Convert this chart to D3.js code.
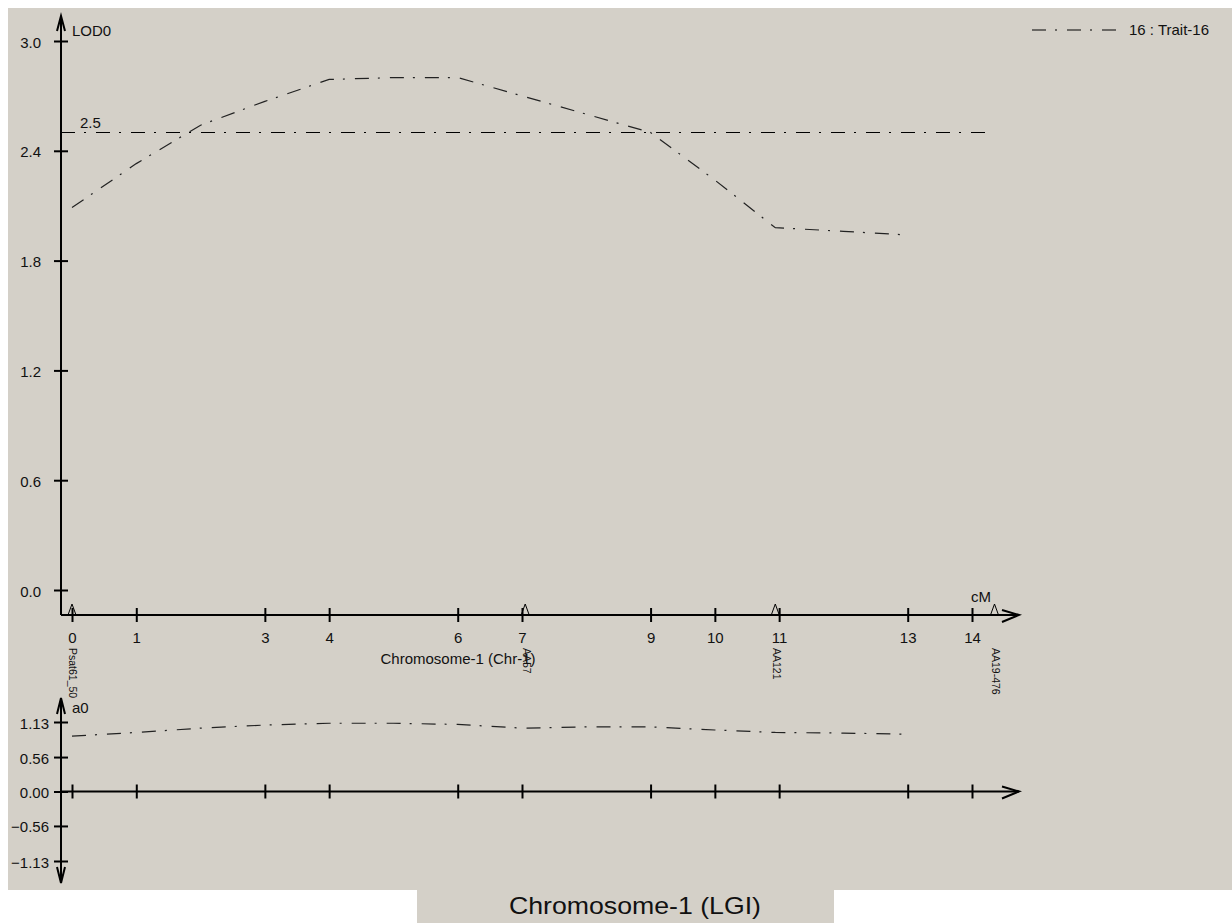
<!DOCTYPE html>
<html>
<head>
<meta charset="utf-8">
<script src="https://cdn.jsdelivr.net/npm/d3@7"></script>
<style>
  body { margin: 0; background: #fff; }
  text { font-family: "Liberation Sans", Arial, sans-serif; fill: #111; }
</style>
</head>
<body>
<script>
// values
const xTicks = [0, 1, 3, 4, 6, 7, 9, 10, 11, 13, 14];
const lodTicks = [0, 0.6, 1.2, 1.8, 2.4, 3.0];
const effTicks = [-1.13, -0.56, 0, 0.56, 1.13];
const positions = [0, 1, 2, 3, 4, 5, 6, 7, 8, 9, 10, 10.94, 12, 13];
const lodValues = [2.09, 2.33, 2.54, 2.67, 2.79, 2.80, 2.80, 2.70, 2.60, 2.50, 2.24, 1.98, 1.96, 1.94];
const a0Values = [0.90, 0.96, 1.03, 1.08, 1.11, 1.11, 1.09, 1.03, 1.05, 1.05, 1.00, 0.96, 0.95, 0.93];
const markerNames = ["Psat61_50", "AA57", "AA121", "AA19-476"];
const markerPos = [0, 7.05, 10.94, 14.35];
const threshold = 2.5;
const thresholdEnd = 14.33;
const legendLabel = "16 : Trait-16";

const width = 1232, height = 923;
const dashDot = "14,9,2,10";

const x = d3.scaleLinear().domain([0, 14]).range([72, 972]);
const yLod = d3.scaleLinear().domain([0, 3]).range([590, 41]);
const yEff = d3.scaleLinear().domain([-1.13, 1.13]).range([861, 722]);

const axisX0 = 61;          // y axis position
const lodBase = 615;        // x axis of the LOD panel
const effBase = yEff(0);    // x axis of the effect panel
const arrowEnd = 1019;

const svg = d3.select("body").append("svg")
  .attr("width", width)
  .attr("height", height);

// background panels
svg.append("rect").attr("x", 8).attr("y", 8)
  .attr("width", width - 8).attr("height", 882).attr("fill", "#d4d0c8");
svg.append("rect").attr("x", 417).attr("y", 890)
  .attr("width", 417).attr("height", 33).attr("fill", "#d4d0c8");

// ---------- LOD panel ----------
// y axis
const gy = svg.append("g")
  .attr("transform", `translate(${axisX0},0)`)
  .call(d3.axisLeft(yLod).tickValues(lodTicks).tickSize(7).tickFormat(d3.format(".1f")));
gy.select(".domain").remove();
gy.selectAll(".tick line").attr("x1", -7).attr("x2", 7).attr("stroke", "#000").attr("stroke-width", 2);
gy.selectAll(".tick text").attr("x", -20).attr("dy", "0.4em")
  .attr("font-size", 15).attr("font-family", "Liberation Sans, Arial, sans-serif").attr("fill", "#111");

svg.append("line").attr("x1", axisX0).attr("x2", axisX0).attr("y1", 16).attr("y2", lodBase)
  .attr("stroke", "#000").attr("stroke-width", 2);
svg.append("path").attr("d", `M${axisX0 - 4},31 L${axisX0},16 L${axisX0 + 4},31`)
  .attr("fill", "none").attr("stroke", "#000").attr("stroke-width", 2);
svg.append("text").attr("x", 72).attr("y", 36).attr("font-size", 15).text("LOD0");

// x axis
const gx = svg.append("g")
  .attr("transform", `translate(0,${lodBase})`)
  .call(d3.axisBottom(x).tickValues(xTicks).tickSize(7).tickFormat(d3.format("d")));
gx.select(".domain").remove();
gx.selectAll(".tick line").attr("y1", -7).attr("y2", 7).attr("stroke", "#000").attr("stroke-width", 2);
gx.selectAll(".tick text").attr("y", 28).attr("dy", 0)
  .attr("font-size", 15).attr("font-family", "Liberation Sans, Arial, sans-serif").attr("fill", "#111");

svg.append("line").attr("x1", axisX0).attr("x2", arrowEnd).attr("y1", lodBase).attr("y2", lodBase)
  .attr("stroke", "#000").attr("stroke-width", 2);
svg.append("path").attr("d", `M${arrowEnd - 17},${lodBase - 5} L${arrowEnd},${lodBase} L${arrowEnd - 17},${lodBase + 7}`)
  .attr("fill", "none").attr("stroke", "#000").attr("stroke-width", 2);
svg.append("text").attr("x", 981).attr("y", 602).attr("text-anchor", "middle")
  .attr("font-size", 15).text("cM");
svg.append("text").attr("x", 458).attr("y", 664).attr("text-anchor", "middle")
  .attr("font-size", 15).text("Chromosome-1 (Chr-1)");

// markers
markerPos.forEach((p, i) => {
  const cx = x(p);
  svg.append("path").attr("d", `M${cx - 4},${lodBase} L${cx},${lodBase - 11} L${cx + 4},${lodBase}`)
    .attr("fill", "none").attr("stroke", "#000").attr("stroke-width", 1);
  svg.append("text")
    .attr("transform", `translate(${cx + 1},648) rotate(90)`)
    .attr("dy", "0.35em")
    .attr("font-size", 10.5)
    .text(markerNames[i]);
});

// threshold
svg.append("line")
  .attr("x1", axisX0).attr("x2", x(thresholdEnd))
  .attr("y1", yLod(threshold)).attr("y2", yLod(threshold))
  .attr("stroke", "#000").attr("stroke-width", 1).attr("stroke-dasharray", dashDot);
svg.append("text").attr("x", 80).attr("y", yLod(threshold) - 5)
  .attr("font-size", 15).text(d3.format(".1f")(threshold));

// LOD curve
const lodLine = d3.line().x((d, i) => x(positions[i])).y(d => yLod(d));
svg.append("path").datum(lodValues)
  .attr("d", lodLine)
  .attr("fill", "none").attr("stroke", "#222").attr("stroke-width", 1.2)
  .attr("stroke-dasharray", dashDot);

// legend
svg.append("line").attr("x1", 1032).attr("x2", 1116).attr("y1", 30).attr("y2", 30)
  .attr("stroke", "#000").attr("stroke-width", 1).attr("stroke-dasharray", dashDot);
svg.append("text").attr("x", 1129).attr("y", 35).attr("font-size", 15).text(legendLabel);

// ---------- effect panel ----------
const ge = svg.append("g")
  .attr("transform", `translate(${axisX0},0)`)
  .call(d3.axisLeft(yEff).tickValues(effTicks).tickSize(7).tickFormat(d3.format(".2f")));
ge.select(".domain").remove();
ge.selectAll(".tick line").attr("x1", -7).attr("x2", 7).attr("stroke", "#000").attr("stroke-width", 2);
ge.selectAll(".tick text").attr("x", -12).attr("dy", "0.4em")
  .attr("font-size", 15).attr("font-family", "Liberation Sans, Arial, sans-serif").attr("fill", "#111");

svg.append("line").attr("x1", axisX0).attr("x2", axisX0).attr("y1", 698).attr("y2", 883)
  .attr("stroke", "#000").attr("stroke-width", 2);
svg.append("path").attr("d", `M${axisX0 - 4},714 L${axisX0},698 L${axisX0 + 4},714`)
  .attr("fill", "none").attr("stroke", "#000").attr("stroke-width", 2);
svg.append("path").attr("d", `M${axisX0 - 4},867 L${axisX0},883 L${axisX0 + 4},867`)
  .attr("fill", "none").attr("stroke", "#000").attr("stroke-width", 2);
svg.append("text").attr("x", 72).attr("y", 713).attr("font-size", 15).text("a0");

const gx2 = svg.append("g")
  .attr("transform", `translate(0,${effBase})`)
  .call(d3.axisBottom(x).tickValues(xTicks).tickSize(7).tickFormat(""));
gx2.select(".domain").remove();
gx2.selectAll(".tick line").attr("y1", -7).attr("y2", 7).attr("stroke", "#000").attr("stroke-width", 2);

svg.append("line").attr("x1", axisX0).attr("x2", arrowEnd).attr("y1", effBase).attr("y2", effBase)
  .attr("stroke", "#000").attr("stroke-width", 2);
svg.append("path").attr("d", `M${arrowEnd - 17},${effBase - 5} L${arrowEnd},${effBase} L${arrowEnd - 17},${effBase + 7}`)
  .attr("fill", "none").attr("stroke", "#000").attr("stroke-width", 2);

const effLine = d3.line().x((d, i) => x(positions[i])).y(d => yEff(d));
svg.append("path").datum(a0Values)
  .attr("d", effLine)
  .attr("fill", "none").attr("stroke", "#222").attr("stroke-width", 1.2)
  .attr("stroke-dasharray", dashDot);

// bottom title
svg.append("text").attr("x", 635).attr("y", 914).attr("text-anchor", "middle")
  .attr("font-size", 24).attr("textLength", 252).attr("lengthAdjust", "spacingAndGlyphs")
  .text("Chromosome-1 (LGI)");
</script>
</body>
</html>
